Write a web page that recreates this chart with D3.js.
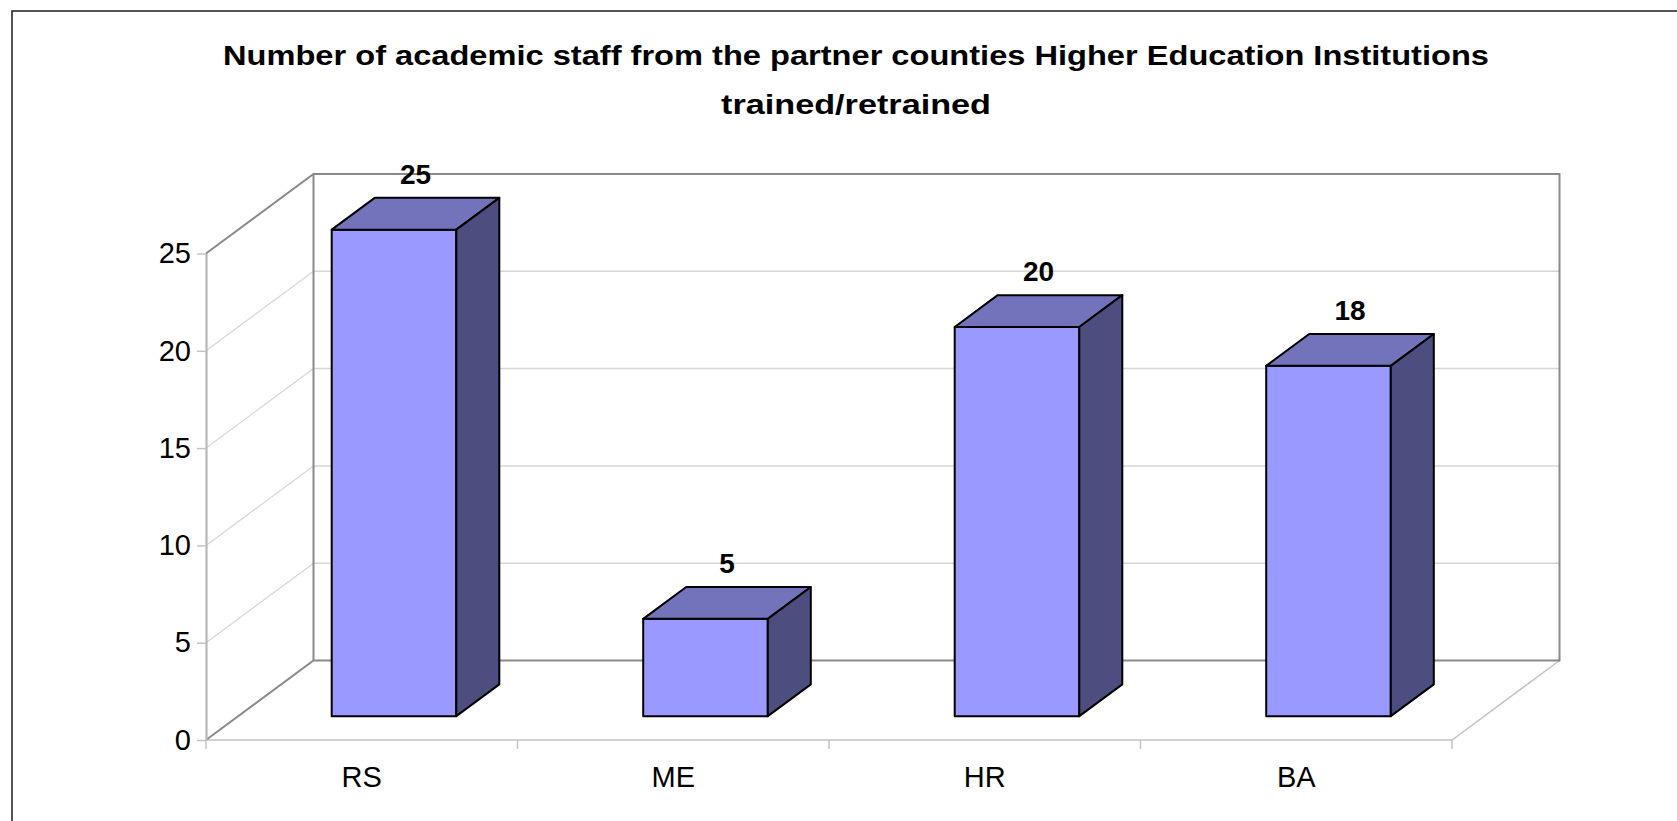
<!DOCTYPE html>
<html>
<head>
<meta charset="utf-8">
<script src="https://cdn.jsdelivr.net/npm/d3@7"></script>
<style>
  html, body { margin: 0; padding: 0; background: #fff; }
  svg { display: block; font-family: "Liberation Sans", Arial, sans-serif; }
</style>
</head>
<body>
<svg id="chart" width="1677" height="821"></svg>
<script>
// Chart data
const titleLines = [
  "Number of academic staff from the partner counties Higher Education Institutions",
  "trained/retrained"
];
const titleWidths = [1266, 270];
const categories = ["RS", "ME", "HR", "BA"];
const values = [25, 5, 20, 18];
const yTicks = [0, 5, 10, 15, 20, 25];

// Geometry of the 3-D plot box
const W = 1677, H = 821;
const frontLeft = 206, frontRight = 1452;   // front floor edge
const floorY = 740;                          // front floor y
const topY = 253.5;                          // y of max value on the front plane
const depthDX = 107.5, depthDY = 79.5;       // offset of the back wall
const barDepth0 = 0.3, barDepth1 = 0.7;      // bar depth span (fraction of box depth)

const colors = {
  front: "#9999FF",
  top: "#7373BB",
  side: "#4D4D80",
  edgeDark: "#8a8a8a",
  edgeLight: "#c4c4c4",
  grid: "#d6d6d6"
};

const svg = d3.select("#chart");

const x = d3.scaleBand()
  .domain(categories)
  .range([frontLeft, frontRight])
  .paddingInner(0.6)
  .paddingOuter(0.3);

const y = d3.scaleLinear().domain([0, 25]).range([floorY, topY]);

// project (screen x on front plane, value, depth fraction) into screen coords
const P = (px, v, t) => [px + depthDX * t, y(v) - depthDY * t];
const line = d3.line();

// Outer chart frame
svg.append("rect")
  .attr("x", 12).attr("y", 11)
  .attr("width", W).attr("height", H)
  .attr("fill", "none").attr("stroke", "#2a2a2a").attr("stroke-width", 1.6);

// Title
svg.append("g").selectAll("text")
  .data(titleLines)
  .join("text")
  .attr("x", 856)
  .attr("y", (d, i) => 65 + i * 49)
  .attr("text-anchor", "middle")
  .attr("font-weight", "bold")
  .attr("font-size", 28.5)
  .attr("textLength", (d, i) => titleWidths[i])
  .attr("lengthAdjust", "spacingAndGlyphs")
  .attr("fill", "#000")
  .text(d => d);

const walls = svg.append("g");

// Back wall gridlines
walls.selectAll("line.bgrid")
  .data(yTicks.filter(v => v > 0 && v < 25))
  .join("line")
  .attr("class", "bgrid")
  .attr("x1", P(frontLeft, 0, 1)[0]).attr("x2", P(frontRight, 0, 1)[0])
  .attr("y1", d => P(0, d, 1)[1]).attr("y2", d => P(0, d, 1)[1])
  .attr("stroke", colors.grid).attr("stroke-width", 1.5);

// Side wall gridlines (diagonals)
walls.selectAll("line.sgrid")
  .data(yTicks.filter(v => v > 0 && v < 25))
  .join("line")
  .attr("class", "sgrid")
  .attr("x1", frontLeft).attr("y1", d => y(d))
  .attr("x2", P(frontLeft, 0, 1)[0]).attr("y2", d => P(0, d, 1)[1])
  .attr("stroke", colors.grid).attr("stroke-width", 1.2);

// Floor: front edge and right diagonal (light)
walls.append("path")
  .attr("d", line([P(frontLeft, 0, 0), P(frontRight, 0, 0), P(frontRight, 0, 1)]))
  .attr("fill", "none").attr("stroke", colors.edgeLight).attr("stroke-width", 1.5);

// Back wall outline and side wall edges (dark)
walls.append("path")
  .attr("d", line([
    P(frontLeft, 25, 0), P(frontLeft, 25, 1), P(frontRight, 25, 1),
    P(frontRight, 0, 1), P(frontLeft, 0, 1), P(frontLeft, 0, 0)
  ]))
  .attr("fill", "none").attr("stroke", colors.edgeDark).attr("stroke-width", 2);
walls.append("path")
  .attr("d", line([P(frontLeft, 0, 1), P(frontLeft, 25, 1)]))
  .attr("fill", "none").attr("stroke", colors.edgeDark).attr("stroke-width", 2);

// Y axis (front-left edge)
const yAxis = svg.append("g")
  .attr("transform", `translate(${frontLeft},0)`)
  .call(d3.axisLeft(y).tickValues(yTicks).tickSize(9).tickSizeOuter(0).tickPadding(6));
yAxis.select(".domain").attr("stroke", "#b8b8b8").attr("stroke-width", 2.2);
yAxis.selectAll(".tick line").attr("stroke", "#c4c4c4").attr("stroke-width", 1.5);
yAxis.selectAll(".tick text")
  .attr("font-size", 29).attr("fill", "#000")
  .attr("font-family", "Liberation Sans, Arial, sans-serif");

// Category boundary ticks
const step = x.step();
svg.append("g").selectAll("line")
  .data(d3.range(categories.length + 1))
  .join("line")
  .attr("x1", i => frontLeft + i * step).attr("x2", i => frontLeft + i * step)
  .attr("y1", floorY).attr("y2", floorY + 9)
  .attr("stroke", colors.edgeLight).attr("stroke-width", 1.5);

// Category labels
svg.append("g").selectAll("text")
  .data(categories)
  .join("text")
  .attr("x", d => x(d) + x.bandwidth() / 2)
  .attr("y", 787)
  .attr("text-anchor", "middle")
  .attr("font-size", 29)
  .attr("fill", "#000")
  .text(d => d);

// 3-D bars
const bars = svg.append("g").selectAll("g")
  .data(categories.map((c, i) => ({ c, v: values[i] })))
  .join("g");

const faceStroke = g => g.attr("stroke", "#000").attr("stroke-width", 2).attr("stroke-linejoin", "round");

bars.append("path") // front face
  .attr("d", d => {
    const x0 = x(d.c), x1 = x0 + x.bandwidth();
    return line([P(x0, 0, barDepth0), P(x1, 0, barDepth0), P(x1, d.v, barDepth0), P(x0, d.v, barDepth0)]) + "Z";
  })
  .attr("fill", colors.front).call(faceStroke);

bars.append("path") // top face
  .attr("d", d => {
    const x0 = x(d.c), x1 = x0 + x.bandwidth();
    return line([P(x0, d.v, barDepth0), P(x1, d.v, barDepth0), P(x1, d.v, barDepth1), P(x0, d.v, barDepth1)]) + "Z";
  })
  .attr("fill", colors.top).call(faceStroke);

bars.append("path") // right side face
  .attr("d", d => {
    const x1 = x(d.c) + x.bandwidth();
    return line([P(x1, 0, barDepth0), P(x1, 0, barDepth1), P(x1, d.v, barDepth1), P(x1, d.v, barDepth0)]) + "Z";
  })
  .attr("fill", colors.side).call(faceStroke);

// Value labels above each bar
bars.append("text")
  .attr("x", d => P(x(d.c) + x.bandwidth() / 2, d.v, 0.5)[0])
  .attr("y", d => P(0, d.v, 0.5)[1] - 30)
  .attr("text-anchor", "middle")
  .attr("font-weight", "bold")
  .attr("font-size", 28)
  .attr("fill", "#000")
  .text(d => d.v);
</script>
</body>
</html>
